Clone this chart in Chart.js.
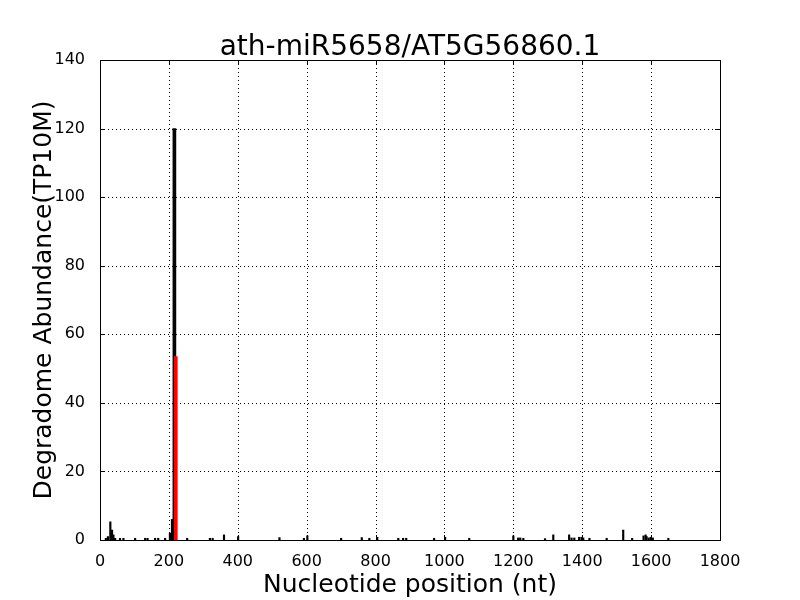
<!DOCTYPE html>
<html>
<head>
<meta charset="utf-8">
<script src="https://cdn.jsdelivr.net/npm/chart.js@4/dist/chart.umd.min.js"></script>
<style>
html,body{margin:0;padding:0;background:#fff;}
#wrap{width:800px;height:600px;position:relative;}
</style>
</head>
<body>
<div id="wrap"><canvas id="c" width="800" height="600"></canvas></div>
<script>
const chartTitle = "ath-miR5658/AT5G56860.1";
const xTitle = "Nucleotide position (nt)";
const yTitle = "Degradome Abundance(TP10M)";
const xTicks = [0,200,400,600,800,1000,1200,1400,1600,1800];
const yTicks = [0,20,40,60,80,100,120,140];

const blackPos = [17,23,30,35,39,44,58,68,102,131,138,160,169,189,203,209,216,253,319,327,360,401,521,592,602,700,760,782,805,866,880,889,970,1002,1072,1200,1214,1220,1229,1292,1316,1362,1369,1377,1391,1398,1403,1421,1471,1519,1545,1578,1584,1587,1593,1599,1605,1650];
const blackVal = [0.5,1,5.3,2.9,1.5,0.5,0.5,0.5,0.5,0.5,0.5,0.5,0.5,0.5,2,6,120,0.5,0.5,0.5,1.5,1,0.7,0.5,1.2,0.5,0.7,0.5,0.8,0.5,0.5,0.5,0.5,0.8,0.5,1.2,0.6,0.6,0.5,0.4,1.5,1.5,0.6,0.6,0.8,0.8,0.6,0.5,0.5,2.9,0.5,1.2,1.5,1,0.6,0.8,0.6,0.5];
const redPos = [220];
const redVal = [53.5];

const bigBlack = [], smallBlack = [];
blackPos.forEach((p,i)=>{ (blackVal[i] > 50 ? bigBlack : smallBlack).push({x:p, y:blackVal[i]}); });
const redData = redPos.map((p,i)=>({x:p, y:redVal[i]}));

const FONT = "'DejaVu Sans', sans-serif";

const gridPlugin = {
  id:'dotgrid',
  beforeDatasetsDraw(chart){
    const {ctx, chartArea:a, scales} = chart;
    ctx.save();
    ctx.strokeStyle='#000'; ctx.lineWidth=1;
    ctx.setLineDash([1,3]);
    ctx.beginPath();
    xTicks.forEach(v=>{
      const x = Math.round(scales.x.getPixelForValue(v))+0.5;
      ctx.moveTo(x,a.top); ctx.lineTo(x,a.bottom);
    });
    yTicks.forEach(v=>{
      const y = Math.round(scales.y.getPixelForValue(v))+0.5;
      ctx.moveTo(a.left,y); ctx.lineTo(a.right,y);
    });
    ctx.stroke();
    ctx.restore();
  }
};

const framePlugin = {
  id:'frame',
  afterDraw(chart){
    const {ctx, chartArea:a, scales} = chart;
    ctx.save();
    ctx.strokeStyle='#000'; ctx.lineWidth=1;
    ctx.strokeRect(Math.round(a.left)+0.5, Math.round(a.top)+0.5, Math.round(a.right-a.left), Math.round(a.bottom-a.top));
    ctx.beginPath();
    xTicks.forEach(v=>{
      const x = Math.round(scales.x.getPixelForValue(v))+0.5;
      ctx.moveTo(x,a.bottom); ctx.lineTo(x,a.bottom-5);
      ctx.moveTo(x,a.top); ctx.lineTo(x,a.top+5);
    });
    yTicks.forEach(v=>{
      const y = Math.round(scales.y.getPixelForValue(v))+0.5;
      ctx.moveTo(a.left,y); ctx.lineTo(a.left+5,y);
      ctx.moveTo(a.right,y); ctx.lineTo(a.right-5,y);
    });
    ctx.stroke();
    ctx.fillStyle='#000';
    ctx.font = "28px " + FONT;
    ctx.textAlign='center'; ctx.textBaseline='alphabetic';
    ctx.fillText(chartTitle, (a.left+a.right)/2, 55);
    ctx.restore();
  }
};

new Chart(document.getElementById('c'), {
  type:'bar',
  data:{
    datasets:[
      {data:smallBlack, backgroundColor:'#000', barThickness:1.5, grouped:false, order:3},
      {data:bigBlack, backgroundColor:'#000', barThickness:3, grouped:false, order:2},
      {data:redData, backgroundColor:'#ff0000', barThickness:3, grouped:false, order:1}
    ]
  },
  options:{
    responsive:false,
    animation:false,
    layout:{padding:{top:60, right:80, left:29, bottom:0}},
    plugins:{legend:{display:false}, tooltip:{enabled:false}, title:{display:false}},
    scales:{
      x:{
        type:'linear', min:0, max:1800, offset:false,
        afterBuildTicks(s){ s.ticks = xTicks.map(v=>({value:v})); },
        afterFit(s){ s.height = 60; },
        grid:{display:false},
        border:{display:false},
        ticks:{color:'#000', font:{family:FONT, size:16}, padding:4, maxRotation:0, callback:v=>String(v)},
        title:{display:true, text:xTitle, color:'#000', font:{family:FONT, size:25}, padding:{top:0,bottom:0}}
      },
      y:{
        min:0, max:140,
        afterBuildTicks(s){ s.ticks = yTicks.map(v=>({value:v})); },
        afterFit(s){ s.width = 71; },
        grid:{display:false},
        border:{display:false},
        ticks:{color:'#000', font:{family:FONT, size:16}, padding:7, callback:v=>String(v)},
        title:{display:true, text:yTitle, color:'#000', font:{family:FONT, size:25}, padding:{top:0,bottom:0}}
      }
    }
  },
  plugins:[gridPlugin, framePlugin]
});
</script>
</body>
</html>
